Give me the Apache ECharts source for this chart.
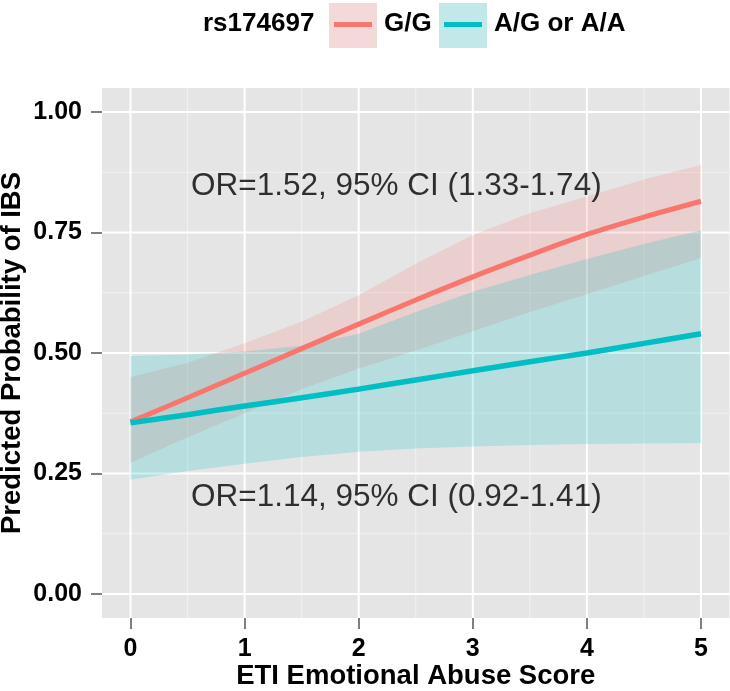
<!DOCTYPE html>
<html><head><meta charset="utf-8">
<script src="https://cdn.jsdelivr.net/npm/echarts@6/dist/echarts.min.js"></script>
<style>html,body{margin:0;padding:0;background:#fff}#c{width:730px;height:691px}</style>
</head><body><div id="c"></div><script>
// ---- data ----
const xValues = [0, 0.5, 1, 1.5, 2, 2.5, 3, 3.5, 4, 4.5, 5];
const ggFit  = [0.357, 0.407, 0.458, 0.509, 0.560, 0.610, 0.658, 0.703, 0.746, 0.782, 0.815];
const ggLow  = [0.272, 0.325, 0.375, 0.425, 0.468, 0.505, 0.545, 0.585, 0.622, 0.660, 0.697];
const ggHigh = [0.450, 0.480, 0.520, 0.565, 0.620, 0.685, 0.745, 0.790, 0.825, 0.860, 0.890];
const agFit  = [0.355, 0.372, 0.390, 0.407, 0.425, 0.444, 0.463, 0.482, 0.500, 0.520, 0.540];
const agLow  = [0.237, 0.255, 0.270, 0.284, 0.295, 0.302, 0.306, 0.309, 0.311, 0.312, 0.313];
const agHigh = [0.494, 0.497, 0.503, 0.515, 0.540, 0.585, 0.627, 0.662, 0.695, 0.726, 0.755];
const xTicks = [0, 1, 2, 3, 4, 5];
const xMinor = [0.5, 1.5, 2.5, 3.5, 4.5];
const yTicks = [0, 0.25, 0.5, 0.75, 1];
const yMinor = [0.125, 0.375, 0.625, 0.875];
const legendTitle = 'rs174697';
const seriesNames = ['G/G', 'A/G or A/A'];
const notes = [
  {x: 2.33, y: 0.845, text: 'OR=1.52, 95% CI (1.33-1.74)'},
  {x: 2.33, y: 0.201, text: 'OR=1.14, 95% CI (0.92-1.41)'}
];
// ---- styling ----
const RED = '#F8766D', TEAL = '#00BFC4';
const FONT = "'Liberation Sans', Arial, sans-serif";

const pairs = (ys) => xValues.map((x, i) => [x, ys[i]]);

function gridLineSeries(values, vertical, color, width) {
  return {
    type: 'custom', silent: true, z: 1,
    data: values.map(v => vertical ? [v, 0] : [0, v]),
    renderItem: function (params, api) {
      const cs = params.coordSys;
      const p = api.coord([api.value(0), api.value(1)]);
      const shape = vertical
        ? {x1: p[0], y1: cs.y, x2: p[0], y2: cs.y + cs.height}
        : {x1: cs.x, y1: p[1], x2: cs.x + cs.width, y2: p[1]};
      return {type: 'line', shape: shape, style: {stroke: color, lineWidth: width}};
    }
  };
}
function ribbon(lo, hi, color) {
  return {
    type: 'custom', silent: true, z: 2,
    data: xValues.map((x, i) => [x, lo[i], hi[i]]),
    encode: {x: 0, y: [1, 2]},
    renderItem: function (params, api) {
      if (params.dataIndex !== 0) return null;
      const top = xValues.map((x, i) => api.coord([x, hi[i]]));
      const bot = xValues.map((x, i) => api.coord([x, lo[i]])).reverse();
      return {type: 'polygon', shape: {points: top.concat(bot)}, style: {fill: color}};
    }
  };
}

const chart = echarts.init(document.getElementById('c'), null, {renderer: 'canvas'});
const option = {
  animation: false,
  backgroundColor: '#ffffff',
  grid: {left: 102, right: 0.5, top: 88, bottom: 73, show: true, backgroundColor: '#E5E5E5', borderWidth: 0,
         containLabel: false, outerBoundsMode: 'none'},
  xAxis: {
    type: 'value', min: -0.25, max: 5.25,
    name: 'ETI Emotional Abuse Score', nameLocation: 'middle', nameGap: 44, nameMoveOverlap: false,
    nameTextStyle: {fontFamily: FONT, fontWeight: 'bold', fontSize: 27.5, color: '#000'},
    axisLine: {show: false, onZero: false},
    axisTick: {show: true, inside: false, length: 11, customValues: xTicks, lineStyle: {color: '#7F7F7F', width: 2}},
    axisLabel: {customValues: xTicks, margin: 19, fontFamily: FONT, fontWeight: 'bold', fontSize: 25, color: '#000'},
    splitLine: {show: false}
  },
  yAxis: {
    type: 'value', min: -0.05, max: 1.05,
    name: 'Predicted Probability of IBS', nameLocation: 'middle', nameGap: 76, nameMoveOverlap: false,
    nameTextStyle: {fontFamily: FONT, fontWeight: 'bold', fontSize: 27.5, color: '#000'},
    axisLine: {show: false, onZero: false},
    axisTick: {show: true, inside: false, length: 11, customValues: yTicks, lineStyle: {color: '#7F7F7F', width: 2}},
    axisLabel: {customValues: yTicks, margin: 20, fontFamily: FONT, fontWeight: 'bold', fontSize: 25, color: '#000',
                formatter: v => v.toFixed(2)},
    splitLine: {show: false}
  },
  series: [
    gridLineSeries(xMinor, true, '#F2F2F2', 1),
    gridLineSeries(yMinor, false, '#F2F2F2', 1),
    gridLineSeries(xTicks, true, '#FFFFFF', 2),
    gridLineSeries(yTicks, false, '#FFFFFF', 2),
    ribbon(ggLow, ggHigh, 'rgba(248,118,109,0.2)'),
    ribbon(agLow, agHigh, 'rgba(0,191,196,0.2)'),
    {type: 'line', name: seriesNames[0], data: pairs(ggFit), smooth: 0.3, showSymbol: false, silent: true,
     lineStyle: {color: RED, width: 5}, z: 3},
    {type: 'line', name: seriesNames[1], data: pairs(agFit), smooth: 0.3, showSymbol: false, silent: true,
     lineStyle: {color: TEAL, width: 5.5}, z: 3},
    {type: 'scatter', silent: true, z: 4, symbolSize: 0,
     data: notes.map(n => ({value: [n.x, n.y], label: {formatter: n.text}})),
     label: {show: true, position: 'inside', fontFamily: FONT, fontSize: 31.5, color: '#000'}}
  ],
  graphic: [
    {type: 'text', left: 203, top: 11, style: {text: legendTitle, font: "bold 26px 'Liberation Sans', Arial", fill: '#000'}},
    {type: 'rect', shape: {x: 329, y: 3, width: 48, height: 45}, style: {fill: '#F3D9D7'}},
    {type: 'line', shape: {x1: 334, y1: 24.5, x2: 372, y2: 24.5}, style: {stroke: RED, lineWidth: 5}},
    {type: 'text', left: 384, top: 11, style: {text: seriesNames[0], font: "bold 26px 'Liberation Sans', Arial", fill: '#000'}},
    {type: 'rect', shape: {x: 439, y: 3, width: 48, height: 45}, style: {fill: '#C2E8E9'}},
    {type: 'line', shape: {x1: 444, y1: 24.5, x2: 482, y2: 24.5}, style: {stroke: TEAL, lineWidth: 5}},
    {type: 'text', left: 494, top: 11, style: {text: seriesNames[1], font: "bold 26px 'Liberation Sans', Arial", fill: '#000'}}
  ]
};
chart.setOption(option);
</script></body></html>
